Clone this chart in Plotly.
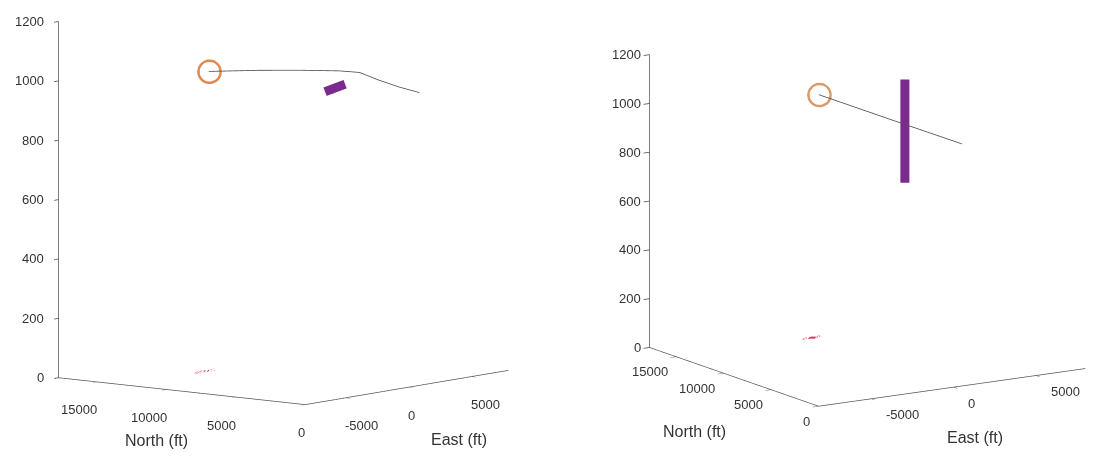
import plotly.graph_objects as go

# ---------------- data ----------------
# Left panel: avoidance manoeuvre (climb over intruder)
L_traj_east = [235, 250, 250, 300, 400, 550, 750, 920]
L_traj_north = [14600, 10985, 8087, 5236, 3877, 2565, 1297, 0]
L_traj_alt = [988, 1010, 1025, 1037, 1038, 1017, 999, 986]

L_intr_east = [-1100, 500]
L_intr_north = [5000, 5000]
L_intr_alt = [978, 992]

# Right panel: straight path through a vertical obstacle
R_traj_east = [235, 370, 510]
R_traj_north = [14600, 7300, 0]
R_traj_alt = [999, 995, 992]

R_obst_east = [407, 407]
R_obst_north = [5830, 5830]
R_obst_alt = [755, 1178]

# Ground marks (red, dashed)
L_gnd_east = [-2650, -1950, -1350, -850]
L_gnd_north = [13000, 13150, 13000, 13150]
L_gnd_alt = [0, 0, 0, 0]

R_gnd_east = [-600, -200, 200, 600]
R_gnd_north = [14900, 15100, 14900, 15100]
R_gnd_alt = [0, 0, 0, 0]

east_ticks = [-5000, 0, 5000]
east_ticktext = ["-5000", "0", "5000"]
north_ticks = [0, 5000, 10000, 15000]
north_ticktext = ["0", "5000", "10000", "15000"]
alt_ticks = [0, 200, 400, 600, 800, 1000, 1200]
alt_ticktext = ["0", "200", "400", "600", "800", "1000", "1200"]

east_range = [-8200, 8000]
north_range = [0, 17800]
alt_range = [0, 1200]

TRAJ_COLOR = "#4d4d4d"
PURPLE = "#7b2a8e"
RED = "#e0345a"

fig = go.Figure()


def add_panel(scene, te, tn, ta, oe, on, oa, ge, gn, ga, circ_color):
    fig.add_trace(go.Scatter3d(x=te, y=tn, z=ta, mode="lines",
                               line=dict(color=TRAJ_COLOR, width=1.6),
                               scene=scene, showlegend=False, hoverinfo="skip"))
    fig.add_trace(go.Scatter3d(x=oe, y=on, z=oa, mode="lines",
                               line=dict(color=PURPLE, width=18),
                               scene=scene, showlegend=False, hoverinfo="skip"))
    fig.add_trace(go.Scatter3d(x=ge, y=gn, z=ga, mode="lines",
                               line=dict(color=RED, width=4, dash="dash"),
                               scene=scene, showlegend=False, hoverinfo="skip"))
    fig.add_trace(go.Scatter3d(x=[te[0]], y=[tn[0]], z=[ta[0]], mode="markers",
                               marker=dict(symbol="circle-open", size=14,
                                           color=circ_color),
                               scene=scene, showlegend=False, hoverinfo="skip"))


add_panel("scene", L_traj_east, L_traj_north, L_traj_alt,
          L_intr_east, L_intr_north, L_intr_alt,
          L_gnd_east, L_gnd_north, L_gnd_alt, "#e08850")
add_panel("scene2", R_traj_east, R_traj_north, R_traj_alt,
          R_obst_east, R_obst_north, R_obst_alt,
          R_gnd_east, R_gnd_north, R_gnd_alt, "#d99a6c")

FONT = dict(family="Liberation Sans, Arial, sans-serif", size=13, color="#333333")
TITLE_FONT = dict(family="Liberation Sans, Arial, sans-serif", size=16, color="#333333")


def axis(rng, tv):
    return dict(range=rng, tickmode="array", tickvals=tv, showticklabels=False,
                title=dict(text=""),
                showgrid=False, showbackground=False, zeroline=False,
                showline=True, linecolor="#555555", linewidth=1.5,
                ticks="outside", ticklen=7, tickcolor="#444444", tickwidth=1.5,
                showspikes=False, autorange=False)


def tick_annotations(n_shift, e_shift, z_shift):
    """Tick labels placed at the tick values (3D data coords) of each axis."""
    anns = []
    for v, t in zip(north_ticks, north_ticktext):
        anns.append(dict(x=east_range[0], y=v, z=alt_range[0], text=t, showarrow=False,
                         xanchor="right", yanchor="middle",
                         xshift=n_shift[0], yshift=n_shift[1], font=FONT))
    for v, t in zip(east_ticks, east_ticktext):
        anns.append(dict(x=v, y=north_range[0], z=alt_range[0], text=t, showarrow=False,
                         xanchor="left", yanchor="middle",
                         xshift=e_shift[0], yshift=e_shift[1], font=FONT))
    for v, t in zip(alt_ticks, alt_ticktext):
        anns.append(dict(x=east_range[0], y=north_range[1], z=v, text=t, showarrow=False,
                         xanchor="right", yanchor="middle",
                         xshift=z_shift[0], yshift=z_shift[1], font=FONT))
    return anns


def scene_layout(domx, domy, d, r, c, aspect, anns):
    return dict(domain=dict(x=domx, y=domy),
                xaxis=axis(east_range, east_ticks),
                yaxis=axis(north_range, north_ticks),
                zaxis=axis(alt_range, alt_ticks),
                aspectmode="manual", aspectratio=aspect,
                camera=dict(eye=dict(x=c[0] + d[0] * r, y=c[1] + d[1] * r, z=c[2] + d[2] * r),
                            center=dict(x=c[0], y=c[1], z=c[2]),
                            up=dict(x=0, y=0, z=1),
                            projection=dict(type="orthographic")),
                annotations=anns,
                bgcolor="white")


d1 = (-0.772, -0.621, 0.1357)
d2 = (-0.524, -0.822, 0.2215)

titles = [("North (ft)", 148, 432), ("East (ft)", 451, 431),
          ("North (ft)", 686, 423), ("East (ft)", 966.7, 429)]
W, H = 1094, 456
annotations = [dict(text=t, x=px / W, y=1 - py / H, xref="paper", yref="paper",
                    xanchor="center", yanchor="middle", showarrow=False, font=TITLE_FONT)
               for t, px, py in titles]

fig.update_layout(
    width=W, height=H, margin=dict(l=0, r=0, t=0, b=0),
    paper_bgcolor="white", font=FONT, annotations=annotations,
    scene=scene_layout([0, 0.52], [0, 1], d1, 2.0, (0.006, -0.0456, -0.1742),
                       dict(x=1.423, y=1.388, z=1.577),
                       tick_annotations((2, -28), (-2, -28), (-13, 0))),
    scene2=scene_layout([0.55, 1], [0, 1], d2, 2.0, (-0.0549, 0.0069, -0.1043),
                        dict(x=1.387, y=1.379, z=1.317),
                        tick_annotations((-6, -15), (13, -16), (-6, 0))),
)

fig.write_html("out.html", config={"displayModeBar": False})
